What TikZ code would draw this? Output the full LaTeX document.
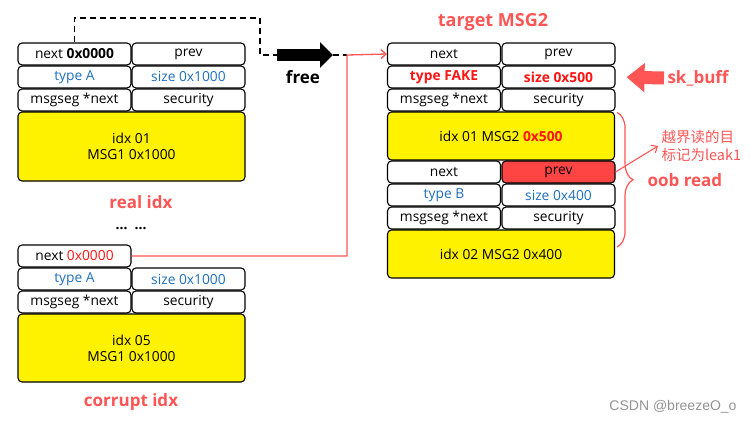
\documentclass[tikz,border=0pt]{standalone}
\usepackage{fontspec}
\setmainfont{Open Sans}
\newfontfamily\cjkfont{Noto Sans CJK SC}
\newfontfamily\markfont{Liberation Sans}
\usepackage{xcolor}
\usetikzlibrary{arrows.meta,positioning,calc,decorations.pathreplacing}
\definecolor{cellblue}{RGB}{30,110,190}
\definecolor{hotred}{RGB}{255,20,20}
\definecolor{salmon}{RGB}{255,85,85}
\definecolor{prevred}{RGB}{255,68,68}

\begin{document}
\begin{tikzpicture}[
  x=1pt,y=-1pt,
  >={Straight Barb[length=5pt,width=9pt]},
  font=\fontsize{13.8}{16}\selectfont,
  cell/.style={draw, line width=1.1pt, rounded corners=4pt, minimum width=113pt, minimum height=22pt, inner sep=0pt},
  body/.style={cell, fill=yellow, minimum width=227pt, align=center},
  bluetxt/.style={text=cellblue},
  redtxt/.style={text=hotred, font=\fontsize{13.8}{16}\selectfont\bfseries},
  tag/.style={font=\fontsize{17}{20}\selectfont\bfseries, text=salmon},
  dashline/.style={dash pattern=on 6pt off 4pt, line width=1.2pt},
  redline/.style={draw=salmon, line width=1.3pt}
]
\useasboundingbox (0,0) rectangle (751,423);

% Freed chunk (real idx).
\node[cell] (r1next) at (74.5,54) {next \textbf{0x0000}};
\node[cell] (r1prev) at (188.5,54) {prev};
\node[cell, bluetxt] (r1type) at (74.5,77) {type A};
\node[cell, bluetxt] (r1size) at (188.5,77) {size 0x1000};
\node[cell] (r1seg) at (74.5,100) {msgseg *next};
\node[cell] (r1sec) at (188.5,100) {security};
\node[body, minimum height=69pt] (r1body) at (131.5,146.5) {idx 01\\MSG1 0x1000};
\node[tag] (realidx) at (141,202) {real idx};
\node[font=\fontsize{14}{16}\selectfont\bfseries] (dots) at (131,229) {\dots\enspace\dots};

% Corrupted chunk (corrupt idx).
\node[cell] (c1next) at (74.5,256) {next \textcolor{hotred}{0x0000}};
\node[cell, bluetxt] (c1type) at (74.5,279) {type A};
\node[cell, bluetxt] (c1size) at (188.5,279) {size 0x1000};
\node[cell] (c1seg) at (74.5,302) {msgseg *next};
\node[cell] (c1sec) at (188.5,302) {security};
\node[body, minimum height=68pt] (c1body) at (131.5,348) {idx 05\\MSG1 0x1000};
\node[tag] (corruptidx) at (131,402) {corrupt idx};

% Target chunk with the fake header.
\node[tag, font=\fontsize{18}{21}\selectfont\bfseries] (targetlbl) at (493,22) {target MSG2};
\node[cell] (t1next) at (444,54) {next};
\node[cell] (t1prev) at (558.5,54) {prev};
\node[cell, redtxt] (t1type) at (444,77) {type FAKE};
\node[cell, redtxt] (t1size) at (558.5,77) {size 0x500};
\node[cell] (t1seg) at (444,100) {msgseg *next};
\node[cell] (t1sec) at (558.5,100) {security};
\node[body, minimum height=48pt] (t1body) at (501,136) {idx 01 MSG2 \textcolor{hotred}{\textbf{0x500}}};
\node[cell] (t2next) at (444,172) {next};
\node[cell, fill=prevred] (t2prev) at (558.5,172) {prev};
\node[cell, bluetxt] (t2type) at (444,195) {type B};
\node[cell, bluetxt] (t2size) at (558.5,195) {size 0x400};
\node[cell] (t2seg) at (444,218) {msgseg *next};
\node[cell] (t2sec) at (558.5,218) {security};
\node[body, minimum height=48pt] (t2body) at (501,254) {idx 02 MSG2 0x400};

% free path.
\coordinate (bend) at (260,18);
\coordinate (freeS) at (277,55);
\coordinate (freeE) at (333,55);
\coordinate (jn) at (347,55);
\draw[dashline] (r1next.north) |- (bend) |- (freeS);
\draw[line width=12pt, -{Triangle[length=13pt,width=25pt]}] (freeS) -- (freeE);
\draw[dashline] (freeE) -- (jn);
\node[font=\fontsize{17}{20}\selectfont\bfseries] (freelbl) at (303,77) {free};

% corrupted next pointer.
\draw[redline, ->] (c1next.east) -| (jn) -- (t1next.west);

% sk_buff overlay.
\node[tag, anchor=west] (skbuff) at (664,78) {sk\_buff};
\draw[salmon, line width=13pt, -{Triangle[length=18pt,width=28pt]}, shorten >=11pt] (skbuff.west) -- (t1size.east);

% out-of-bounds read.
\draw[salmon, line width=1.2pt, decorate, decoration={brace, amplitude=16pt}] ([xshift=2pt,yshift=-1pt]t1body.north east) -- ([xshift=2pt,yshift=7pt]t2body.east);
\node[tag, anchor=west] (oob) at (644,180) {oob read};
\node[anchor=west, text=salmon, font=\cjkfont\fontsize{14.5}{18}\selectfont, align=left] (leaknote) at (658,146) {越界读的目\\标记为leak1};
\draw[salmon, line width=1.1pt, ->] (t2prev.east) -- (leaknote.west);

\node[text=gray!85, font=\markfont\fontsize{14}{16}\selectfont] (mark) at (673,407) {CSDN @breezeO\_o};
\end{tikzpicture}
\end{document}
